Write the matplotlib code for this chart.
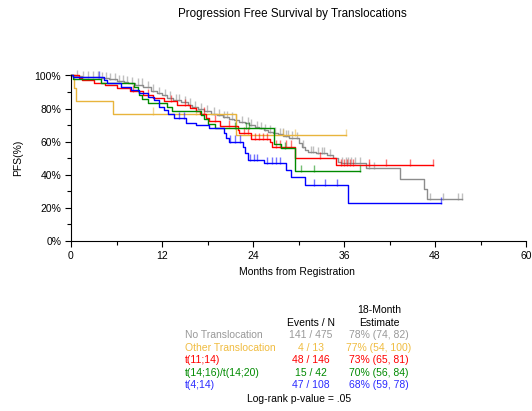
import numpy as np
import matplotlib.pyplot as plt
from matplotlib.ticker import MultipleLocator

plt.rcParams['font.family'] = ['Liberation Sans', 'DejaVu Sans']

# Kaplan-Meier step data (months, PFS %), last follow-up and censor times per group
groups = ['No Translocation', 'Other Translocation', 't(11;14)',
          't(14;16)/t(14;20)', 't(4;14)']
colors = ['#8c8c8c', '#e8b43c', '#ff0000', '#008a00', '#0000ff']
events_n = ['141 / 475', '4 / 13', '48 / 146', '15 / 42', '47 / 108']
est_18m = ['78% (74, 82)', '77% (54, 100)', '73% (65, 81)',
           '70% (56, 84)', '68% (59, 78)']

gray_t = [0, 0.5, 1.5, 3, 4, 5, 6, 7, 7.5, 8.5, 9.5, 10.5, 11.3, 12, 12.7, 13.5,
          14.5, 15.4, 16, 16.8, 17.6, 18.5, 19.2, 20, 20.8, 21.5, 22.2, 23, 23.5,
          24.2, 24.8, 25.4, 26, 26.6, 27.3, 28, 28.8, 29.5, 30.0, 30.4, 30.8,
          31.3, 32.3, 33.7, 34.6, 35.2, 35.6, 38.9, 43.4, 46.6, 47.0]
gray_s = [100, 99.6, 99.2, 98.8, 98.2, 97.6, 96.8, 96, 95.4, 94.4, 92.8, 90.8,
          89.5, 88.2, 86.6, 85.2, 83.8, 82.4, 81, 79.6, 78.4, 77, 76, 75, 74, 73,
          72, 71.2, 70, 69, 68, 67, 66, 65, 64.5, 63.5, 62.5, 62, 59, 57, 55,
          53.8, 53.2, 52, 50, 48, 47, 44, 37.3, 31.3, 25.2]
gray_end = 51.6
gray_cens = [0.8, 1.6, 2.2, 2.9, 3.5, 4.1, 4.6, 5.2, 5.8, 6.3, 6.9, 7.4, 8.0,
             8.8, 9.3, 10.1, 10.8, 11.6, 12.4, 13.0, 13.8, 14.3, 15.0, 15.7,
             16.3, 17.1, 17.9, 18.8, 19.5, 20.2, 20.6, 21.2, 21.8, 22.5, 23.3,
             23.8, 24.5, 25.0, 25.6, 26.2, 26.9, 27.5, 27.9, 28.3, 28.6, 29.1,
             29.8, 30.6, 31.6, 31.9, 32.6, 33.1, 33.3, 34.1, 35.8, 36.2, 36.5,
             36.9, 37.4, 38.1, 39.3, 40.0, 47.3, 49.0, 51.0, 51.6]

yel_t = [0, 0.35, 0.7, 5.5, 21.8]
yel_s = [100, 92.3, 84.6, 76.9, 64.1]
yel_end = 36.3
yel_cens = [10.8, 16.5, 28.0, 29.5, 36.3]

red_t = [0, 1.0, 1.5, 3.0, 4.5, 6.0, 7.8, 9.5, 10.8, 12.3, 14.0, 15.7, 16.5,
         17.0, 17.8, 18.2, 19.6, 22.0, 22.2, 23.8, 26.3, 26.5, 29.6, 35.0]
red_s = [100, 98.5, 97.5, 95.6, 94.5, 92.5, 90.5, 88.3, 86.3, 84.3, 82.3, 80.3,
         78.5, 77, 74.5, 72.5, 69.5, 67, 65, 61.5, 60, 57, 50, 46]
red_end = 47.7
red_cens = [8.2, 10.2, 13.2, 15.0, 17.5, 19.0, 20.8, 22.8, 23.4, 24.3, 24.8,
            25.3, 25.9, 27.0, 27.6, 28.3, 29.0, 32.8, 35.6, 36.0, 36.4, 36.8,
            37.2, 39.3, 41.5, 44.7, 47.7]

grn_t = [0, 0.3, 3.9, 8.3, 8.8, 9.0, 9.4, 10.2, 12.6, 13.3, 17.2, 17.6, 18.0,
         19.0, 26.8, 27.7, 29.6]
grn_s = [100, 97.6, 95.2, 92.9, 90.5, 88.1, 85.7, 83.3, 80.9, 78.5, 76, 73.5,
         70.9, 68.3, 58.9, 56, 42.3]
grn_end = 38.1
grn_cens = [21.6, 23.1, 23.5, 28.2, 30.3, 32.1, 38.1]

blu_t = [0, 0.3, 4.4, 4.8, 6.6, 7.9, 9.0, 10.1, 11.0, 11.6, 12.3, 12.8, 13.6,
         15.2, 16.5, 18.2, 20.2, 20.5, 20.8, 22.7, 23.0, 23.3, 25.5, 28.4, 29.0,
         30.9, 36.5]
blu_s = [100, 99, 97.4, 95.4, 93.3, 91.3, 89.3, 87.3, 85.3, 81, 79, 77, 74.2,
         71.2, 70.2, 68.2, 65.1, 62, 60.1, 57, 53, 49, 47, 43, 38.5, 33.7, 22.8]
blu_end = 48.8
blu_cens = [3.7, 14.2, 14.9, 21.0, 21.6, 22.3, 23.6, 24.1, 24.5, 25.9, 26.5,
            27.0, 27.5, 32.0, 33.5, 35.1, 48.8]

curves = [(gray_t, gray_s, gray_end, gray_cens),
          (yel_t, yel_s, yel_end, yel_cens),
          (red_t, red_s, red_end, red_cens),
          (grn_t, grn_s, grn_end, grn_cens),
          (blu_t, blu_s, blu_end, blu_cens)]

W, H = 532, 411
fig = plt.figure(figsize=(W / 100, H / 100), dpi=100)
ax = fig.add_axes([71 / W, 1 - 241 / H, 455 / W, 165.5 / H])

for (t, s, end, cens), c in zip(curves, colors):
    tt = list(t) + [end]
    ss = list(s) + [s[-1]]
    ax.step(tt, ss, where='post', color=c, lw=1.0, clip_on=False)
    # censor marks sit on the curve at the time of censoring
    idx = np.searchsorted(np.array(t), np.array(cens), side='right') - 1
    ys = np.array(s)[idx]
    ax.vlines(cens, ys - 0.6, ys + 3.8, color=c, lw=1.0, alpha=0.55,
              clip_on=False)

ax.set_xlim(0, 60)
ax.set_ylim(0, 100)
ax.spines['top'].set_visible(False)
ax.spines['right'].set_visible(False)
ax.xaxis.set_major_locator(MultipleLocator(12))
ax.xaxis.set_minor_locator(MultipleLocator(6))
ax.yaxis.set_major_locator(MultipleLocator(20))
ax.yaxis.set_minor_locator(MultipleLocator(10))
ax.set_yticks(range(0, 101, 20))
ax.set_yticklabels([f'{v}%' for v in range(0, 101, 20)])
ax.tick_params(which='major', length=4, width=0.8, labelsize=7.5, pad=3)
ax.tick_params(which='minor', length=3, width=0.8)

fig.text(292 / W, 1 - 14 / H, 'Progression Free Survival by Translocations',
         ha='center', va='center', fontsize=8.4)
fig.text(18 / W, 1 - 158 / H, 'PFS(%)', rotation=90, ha='center', va='center',
         fontsize=7.5)
fig.text(297 / W, 1 - 272 / H, 'Months from Registration', ha='center',
         va='center', fontsize=7.5)

# summary table under the plot
fs = 7.5
fig.text(379 / W, 1 - 309.5 / H, '18-Month', ha='center', va='center', fontsize=fs)
fig.text(311 / W, 1 - 322.5 / H, 'Events / N', ha='center', va='center', fontsize=fs)
fig.text(379 / W, 1 - 322.5 / H, 'Estimate', ha='center', va='center', fontsize=fs)
row_y = [335, 347.5, 360, 372.5, 385]
text_colors = ['#999999', '#f0bc40', '#ff0000', '#008a00', '#2b2bff']
for name, en, est, c, y in zip(groups, events_n, est_18m, text_colors, row_y):
    fig.text(185 / W, 1 - y / H, name, ha='left', va='center', fontsize=fs, color=c)
    fig.text(311 / W, 1 - y / H, en, ha='center', va='center', fontsize=fs, color=c)
    fig.text(378.5 / W, 1 - y / H, est, ha='center', va='center', fontsize=fs, color=c)
fig.text(299 / W, 1 - 399 / H, 'Log-rank p-value = .05', ha='center',
         va='center', fontsize=fs)

fig.savefig('out.png', dpi=100)
